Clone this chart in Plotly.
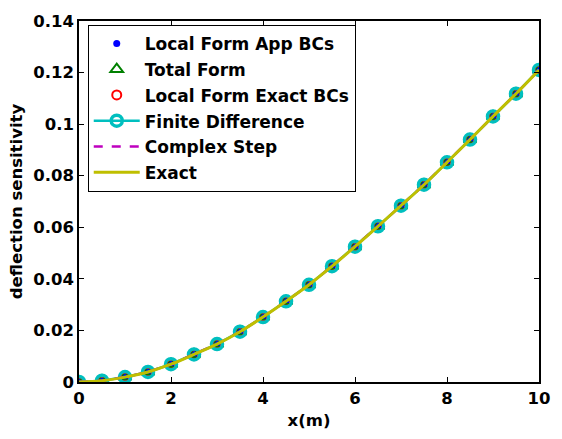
import plotly.graph_objects as go

x_m = [0, 0.5, 1, 1.5, 2, 2.5, 3, 3.5, 4, 4.5, 5, 5.5, 6, 6.5, 7, 7.5, 8, 8.5, 9, 9.5, 10]
local_app = [0, 0.0005, 0.0019, 0.0039, 0.0069, 0.0107, 0.0147, 0.0195, 0.0252, 0.0313,
             0.0377, 0.0449, 0.0525, 0.0604, 0.0684, 0.0765, 0.0852, 0.0940, 0.1030, 0.1118, 0.1210]
total_form = list(local_app)
local_exact = list(local_app)
finite_diff = list(local_app)
complex_step = list(local_app)
exact = list(local_app)

y_ticks = [0, 0.02, 0.04, 0.06, 0.08, 0.1, 0.12, 0.14]
y_tick_text = ["0", "0.02", "0.04", "0.06", "0.08", "0.1", "0.12", "0.14"]
x_ticks = [0, 2, 4, 6, 8, 10]

FONT = "DejaVu Sans, sans-serif"
FS = 16.5

def nm(s):
    return "<span style='font-size:17px'><b>" + s + "</b></span>"

fig = go.Figure()
fig.add_trace(go.Scatter(x=x_m, y=local_app, mode="markers", name=nm("Local Form App BCs"),
                         marker=dict(symbol="circle", size=7, color="#0000FF")))
fig.add_trace(go.Scatter(x=x_m, y=total_form, mode="markers", name=nm("Total Form"),
                         marker=dict(symbol="triangle-up-open", size=11, color="#008000",
                                     line=dict(width=2, color="#008000"))))
fig.add_trace(go.Scatter(x=x_m, y=local_exact, mode="markers", name=nm("Local Form Exact BCs"),
                         marker=dict(symbol="circle-open", size=9, color="#FF0000",
                                     line=dict(width=2, color="#FF0000"))))
fig.add_trace(go.Scatter(x=x_m, y=finite_diff, mode="lines+markers", name=nm("Finite Difference"),
                         line=dict(color="#00BFBF", width=2.5),
                         marker=dict(symbol="circle-open", size=11, color="#00BFBF",
                                     line=dict(width=3.5, color="#00BFBF"))))
fig.add_trace(go.Scatter(x=x_m, y=complex_step, mode="lines", name=nm("Complex Step"),
                         line=dict(color="#BF00BF", width=2.5, dash="dash")))
fig.add_trace(go.Scatter(x=x_m, y=exact, mode="lines", name=nm("Exact"), line_shape="spline",
                         line=dict(color="#BFBF00", width=3)))

fig.update_layout(
    width=562, height=439,
    margin=dict(l=79, r=12, t=13, b=55),
    paper_bgcolor="white", plot_bgcolor="white",
    font=dict(family=FONT, size=FS, color="black"),
    showlegend=True,
    legend=dict(x=0.019, y=0.99, xanchor="left", yanchor="top",
                bgcolor="white", bordercolor="black", borderwidth=1, itemwidth=46,
                font=dict(family=FONT, size=17.5, color="black")),
)
fig.update_xaxes(range=[0, 10], tickvals=x_ticks, ticks="inside", ticklen=5, tickcolor="black",
                 showline=True, linecolor="black", linewidth=1.5, mirror="ticks", showgrid=False,
                 zeroline=False, tickfont=dict(family=FONT, size=FS, weight="bold"),
                 title=dict(text="<b>x(m)</b>", font=dict(family=FONT, size=FS), standoff=8))
fig.update_yaxes(range=[0, 0.14], tickvals=y_ticks, ticktext=y_tick_text, ticks="inside", ticklen=5,
                 tickcolor="black", showline=True, linecolor="black", linewidth=1.5, mirror="ticks",
                 showgrid=False, zeroline=False, tickfont=dict(family=FONT, size=FS, weight="bold"),
                 title=dict(text="<b>deflection sensitivity</b>", font=dict(family=FONT, size=FS), standoff=6))

fig.write_html("out.html")
